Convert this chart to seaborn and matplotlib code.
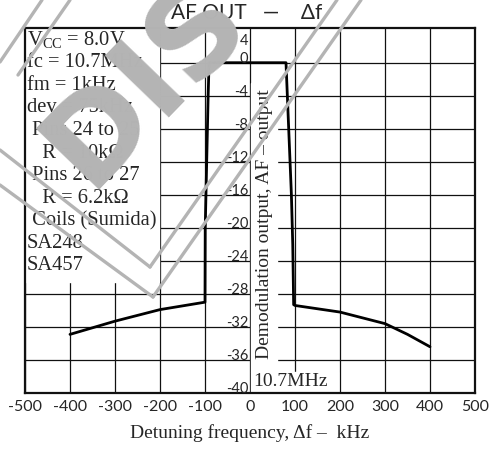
import numpy as np
import pandas as pd
import seaborn as sns
import matplotlib.pyplot as plt
from matplotlib.patches import Rectangle
from matplotlib.lines import Line2D

# detuning frequency (kHz) and demodulated AF output (dB)
detune_khz = [-400, -300, -200, -100, -99.5, -93, -91, 80, 83, 92, 95, 97,
              100, 200, 300, 350, 400]
af_out_db = [-32.9, -31.3, -29.9, -29.0, -20.0, -4.0, 0.0, 0.0, -4.0, -16.0,
             -22.0, -29.3, -29.4, -30.2, -31.6, -32.9, -34.4]

xticks = [-500, -400, -300, -200, -100, 0, 100, 200, 300, 400, 500]
ytick_vals = [4, 0, -4, -8, -12, -16, -20, -24, -28, -32, -36, -40]
ytick_text = ["4", "0", "-4", "-8", "-12", "-16", "-20", "-24", "-28", "-32",
              "-36", "-40"]

cond_lines = [r"V$_{\mathrm{CC}}$ = 8.0V", "fc = 10.7MHz", "fm = 1kHz",
              "dev = 75kHz", " Pins 24 to 25", "   R = 10k\u03a9",
              " Pins 26 to 27", "   R = 6.2k\u03a9", " Coils (Sumida)",
              "SA248", "SA457"]

sns.set_style("white")
plt.rcParams['axes.unicode_minus'] = False
plt.rcParams['mathtext.fontset'] = 'custom'
plt.rcParams['mathtext.rm'] = 'Liberation Serif'
serif = ['Liberation Serif', 'DejaVu Serif']
sans = ['Lato', 'DejaVu Sans']

W, H = 492, 450
fig = plt.figure(figsize=(W / 100, H / 100), dpi=100)
ax = fig.add_axes([25 / W, 1 - 393 / H, 450 / W, 365.3 / H])

data = pd.DataFrame({'df': detune_khz, 'af': af_out_db})
sns.lineplot(data=data, x='df', y='af', sort=False, estimator=None,
             color='black', lw=2.0, ax=ax, zorder=3)

ax.set_xlim(-500, 500)
ax.set_ylim(-40, 4.24)
ax.set_xticks(xticks)
ax.set_xticklabels([str(v) for v in xticks], family=sans, fontsize=11.5)
ax.set_yticks(ytick_vals[1:])
ax.set_yticklabels([])
ax.tick_params(axis='both', length=0)
ax.tick_params(axis='x', pad=5)
ax.set_axisbelow(True)
ax.grid(True, color='#111111', lw=0.9)
for s in ax.spines.values():
    s.set_color('#111111')
    s.set_linewidth(1.6)
ax.set_xlabel("Detuning frequency, \u0394f \u2013  kHz", family=serif,
              fontsize=14, labelpad=7)
ax.set_ylabel("")

# y tick numbers drawn inside the plot, left of the 0 kHz line
for v, t in zip(ytick_vals, ytick_text):
    ax.text(-4, v if v < 4 else 3.5, t, ha='right',
            va='baseline' if v < 4 else 'top', family=sans, fontsize=10.5,
            zorder=4)

# white panels behind the annotations
ax.add_patch(Rectangle((-500, -26.6), 297, 31, color='white', zorder=1))
ax.add_patch(Rectangle((2.5, -37.4), 58.5, 34.9, color='white', zorder=1))
ax.add_patch(Rectangle((2.5, -40), 193, 2.6, color='white', zorder=1))

# conditions text block
for i, line in enumerate(cond_lines):
    fig.text(27 / W, 1 - (40 + i * 22.6) / H, line, ha='left', va='center',
             family=serif, fontsize=14.8, zorder=5)

ax.text(33, -19.6, "Demodulation output, AF \u2013 output", rotation=90,
        ha='center', va='center', family=serif, fontsize=14, zorder=5)
ax.text(8, -38.6, "10.7MHz", ha='left', va='center', family=serif,
        fontsize=14, zorder=5)

fig.text(247 / W, 1 - 13 / H, "AF OUT   \u2014    \u0394f", ha='center',
         va='center', family=sans, fontsize=15)

# grey "DISCONTINUED" stamp overlay
wm = '#b4b4b4'
fig.text(146 / W, 1 - 82 / H, "DIS", rotation=46, fontsize=88,
         fontweight='bold', color=wm, ha='center', va='center',
         family=['DejaVu Sans'], zorder=20)
stamp_lines = [[(150, 267), (337, 0)], [(153, 297), (361, 0)],
               [(150, 267), (0, 150)], [(153, 297), (0, 185)],
               [(0, 62), (42, 0)], [(18, 75), (70, 0)]]
for (x0, y0), (x1, y1) in stamp_lines:
    fig.add_artist(Line2D([x0 / W, x1 / W], [1 - y0 / H, 1 - y1 / H],
                          transform=fig.transFigure, color=wm, lw=2.4,
                          zorder=20))

fig.savefig('out.png', dpi=100)
